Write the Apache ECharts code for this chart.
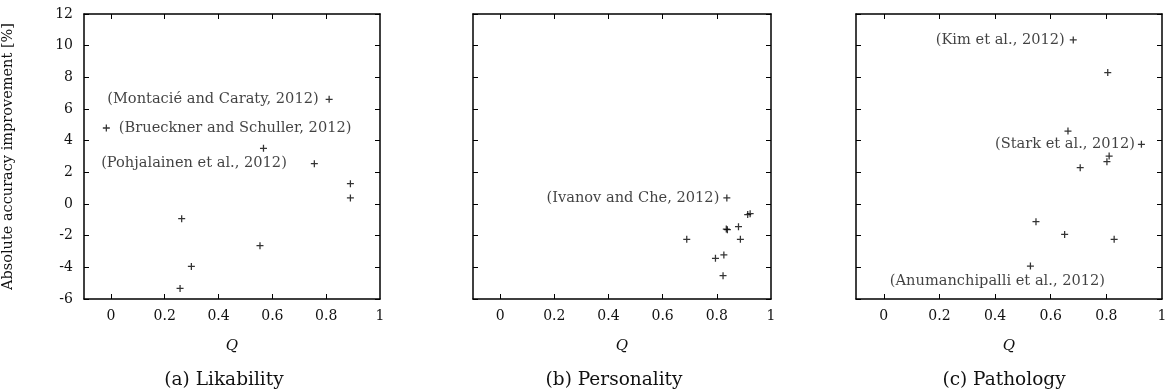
<!DOCTYPE html>
<html>
<head>
<meta charset="utf-8">
<script src="https://cdn.jsdelivr.net/npm/echarts@6/dist/echarts.min.js"></script>
<style>
  html, body { margin: 0; padding: 0; background: #fff; }
  #chart { width: 1171px; height: 392px; }
</style>
</head>
<body>
<div id="chart"></div>
<script>
// values: Q and absolute accuracy gain [%]
const likQ = [0.811, -0.017, 0.567, 0.756, 0.890, 0.890, 0.263, 0.554, 0.299, 0.257];
const likGain = [6.61, 4.80, 3.52, 2.55, 1.28, 0.38, -0.93, -2.63, -3.94, -5.33];
const likNotes = ['(Montacié and Caraty, 2012)', '(Brueckner and Schuller, 2012)', '', '(Pohjalainen et al., 2012)', '', '', '', '', '', ''];

const persQ = [0.837, 0.914, 0.923, 0.835, 0.839, 0.880, 0.689, 0.887, 0.826, 0.795, 0.823];
const persGain = [0.38, -0.67, -0.61, -1.58, -1.62, -1.43, -2.23, -2.23, -3.22, -3.43, -4.53];
const persNotes = ['(Ivanov and Che, 2012)', '', '', '', '', '', '', '', '', '', ''];

const pathQ = [0.681, 0.805, 0.662, 0.926, 0.810, 0.802, 0.706, 0.547, 0.650, 0.828, 0.527];
const pathGain = [10.36, 8.30, 4.61, 3.77, 3.03, 2.67, 2.29, -1.12, -1.92, -2.23, -3.92];
const pathNotes = ['(Kim et al., 2012)', '', '', '(Stark et al., 2012)', '', '', '', '', '', '', '(Anumanchipalli et al., 2012)'];

const qLabels = [0, 0.2, 0.4, 0.6, 0.8, 1];
const qTicks = [0, 0.2, 0.4, 0.6, 0.8];
const captions = ['(a) Likability', '(b) Personality', '(c) Pathology'];

const FONT = 'DejaVu Serif';
const chart = echarts.init(document.getElementById('chart'));

const grids = [
  { left: 83, top: 14, width: 297, height: 285 },
  { left: 473, top: 14, width: 298, height: 285 },
  { left: 856, top: 14, width: 306, height: 285 }
];
const captionX = [224, 614, 1004];

// where each annotation sits relative to its point
const placement = {
  '(Montacié and Caraty, 2012)': { position: 'left', distance: 7 },
  '(Brueckner and Schuller, 2012)': { position: 'right', distance: 9 },
  '(Pohjalainen et al., 2012)': { position: 'left', distance: 24 },
  '(Ivanov and Che, 2012)': { position: 'left', distance: 4 },
  '(Kim et al., 2012)': { position: 'left', distance: 5 },
  '(Stark et al., 2012)': { position: 'left', distance: 3 },
  '(Anumanchipalli et al., 2012)': { position: 'bottom', distance: 4, offset: [-33, 0] }
};

const plus = 'path://M4.1,0h1.8v10h-1.8z M0,4.1h10v1.8h-10z';

function points(q, g, notes) {
  return q.map(function (v, i) {
    const item = { value: [v, g[i]] };
    if (notes[i]) {
      item.label = Object.assign({
        show: true,
        formatter: notes[i],
        color: '#111',
        fontFamily: FONT,
        fontSize: 14.6
      }, placement[notes[i]]);
    }
    return item;
  });
}

const xAxis = [], yAxis = [], series = [], title = [];
const panels = [[likQ, likGain, likNotes], [persQ, persGain, persNotes], [pathQ, pathGain, pathNotes]];

panels.forEach(function (p, k) {
  ['bottom', 'top'].forEach(function (pos) {
    xAxis.push({
      type: 'value',
      gridIndex: k,
      position: pos,
      min: -0.1,
      max: 1,
      name: pos === 'bottom' ? 'Q' : '',
      nameLocation: 'middle',
      nameGap: 40,
      nameTextStyle: { fontFamily: FONT, fontStyle: 'italic', fontSize: 15, color: '#111' },
      axisLine: { show: true, onZero: false, lineStyle: { color: '#000', width: 1.5 } },
      axisTick: { show: true, inside: true, length: 5, customValues: qTicks, lineStyle: { color: '#000' } },
      axisLabel: {
        show: pos === 'bottom',
        customValues: qLabels,
        margin: 10,
        fontFamily: FONT,
        fontSize: 14,
        color: '#111'
      },
      splitLine: { show: false }
    });
  });
  ['left', 'right'].forEach(function (pos) {
    yAxis.push({
      type: 'value',
      gridIndex: k,
      position: pos,
      min: -6,
      max: 12,
      interval: 2,
      name: (k === 0 && pos === 'left') ? 'Absolute accuracy improvement [%]' : '',
      nameLocation: 'middle',
      nameRotate: 90,
      nameGap: 68,
      nameTextStyle: { fontFamily: FONT, fontSize: 14.5, color: '#111' },
      axisLine: { show: true, onZero: false, lineStyle: { color: '#000', width: 1.5 } },
      axisTick: { show: true, inside: true, length: 5, lineStyle: { color: '#000' } },
      axisLabel: {
        show: k === 0 && pos === 'left',
        margin: 11,
        fontFamily: FONT,
        fontSize: 14,
        color: '#111'
      },
      splitLine: { show: false }
    });
  });
  series.push({
    type: 'scatter',
    xAxisIndex: 2 * k,
    yAxisIndex: 2 * k,
    symbol: plus,
    symbolSize: 7,
    itemStyle: { color: '#000' },
    data: points(p[0], p[1], p[2])
  });
  title.push({
    text: captions[k],
    left: captionX[k],
    top: 371,
    textAlign: 'center',
    padding: 0,
    textStyle: { fontFamily: FONT, fontWeight: 'normal', fontSize: 18.5, color: '#111' }
  });
});

chart.setOption({
  animation: false,
  title: title,
  grid: grids,
  xAxis: xAxis,
  yAxis: yAxis,
  series: series
});
</script>
</body>
</html>
